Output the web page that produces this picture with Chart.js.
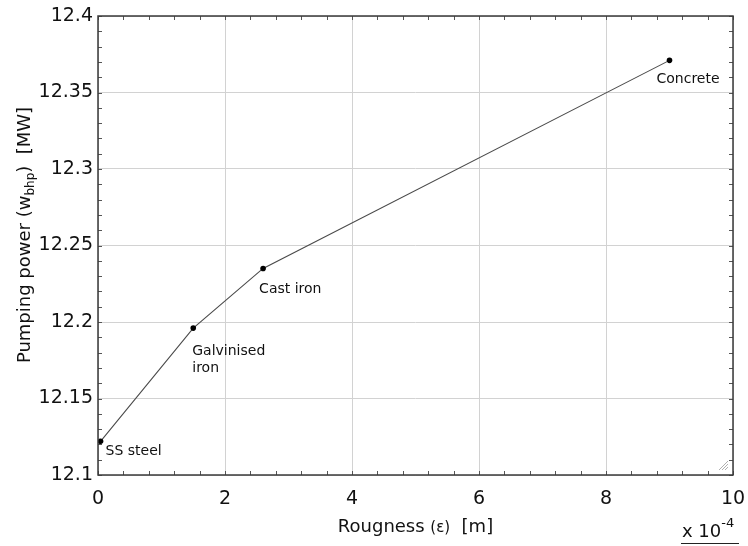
<!DOCTYPE html>
<html>
<head>
<meta charset="utf-8">
<script src="https://cdn.jsdelivr.net/npm/chart.js@4"></script>
<style>
  html, body { margin: 0; padding: 0; background: #fff; }
  #wrap { width: 748px; height: 546px; }
</style>
</head>
<body>
<div id="wrap"><canvas id="powerChart" width="748" height="546"></canvas></div>
<script>
// pipe materials and their wall roughness (x 10^-4 m) vs pumping power (MW)
const materials = [['SS steel'], ['Galvinised', 'iron'], ['Cast iron'], ['Concrete']];
const roughness = [0.04, 1.5, 2.6, 9.0];
const pumpPower = [12.122, 12.196, 12.235, 12.371];

const xMin = 0, xMax = 10, xStep = 2, xMinor = 0.4;
const yMin = 12.1, yMax = 12.4, yStep = 0.05, yMinor = 0.01;

const FONT = '"DejaVu Sans", sans-serif';

// label placement relative to each marker, in pixels
const labelShift = [[5, 10], [-1, 23], [-4, 21], [-13, 19]];

const decorations = {
    id: 'decorations',
    afterDatasetsDraw(chart) {
        const ctx = chart.ctx;
        const a = chart.chartArea;
        const xs = chart.scales.x, ys = chart.scales.y;
        ctx.save();

        // inward tick marks on all four sides
        ctx.strokeStyle = '#555';
        ctx.lineWidth = 1;
        ctx.beginPath();
        for (let v = xMin; v <= xMax + 1e-9; v += xMinor) {
            const px = Math.round(xs.getPixelForValue(v)) + 0.5;
            ctx.moveTo(px, a.bottom); ctx.lineTo(px, a.bottom - 4);
            ctx.moveTo(px, a.top); ctx.lineTo(px, a.top + 4);
        }
        for (let v = yMin; v <= yMax + 1e-9; v += yMinor) {
            const py = Math.round(ys.getPixelForValue(v)) + 0.5;
            ctx.moveTo(a.left, py); ctx.lineTo(a.left + 4, py);
            ctx.moveTo(a.right, py); ctx.lineTo(a.right - 4, py);
        }
        ctx.stroke();

        // plot frame
        ctx.strokeStyle = '#3a3a3a';
        ctx.lineWidth = 1.5;
        ctx.strokeRect(a.left, a.top, a.right - a.left, a.bottom - a.top);

        // resize grip in the corner
        ctx.strokeStyle = '#b0b0b0';
        ctx.lineWidth = 1;
        ctx.beginPath();
        for (let i = 0; i < 4; i++) {
            ctx.moveTo(a.right - 5 - i * 3, a.bottom - 5);
            ctx.lineTo(a.right - 5, a.bottom - 5 - i * 3);
        }
        ctx.stroke();

        // material labels
        ctx.fillStyle = '#111';
        ctx.font = '14px ' + FONT;
        ctx.textBaseline = 'middle';
        ctx.textAlign = 'left';
        materials.forEach((lines, i) => {
            const px = xs.getPixelForValue(roughness[i]) + labelShift[i][0];
            const py = ys.getPixelForValue(pumpPower[i]) + labelShift[i][1];
            lines.forEach((t, k) => ctx.fillText(t, px, py + k * 17));
        });

        // x axis title
        ctx.fillStyle = '#111';
        ctx.textAlign = 'left';
        ctx.textBaseline = 'alphabetic';
        const xt1 = 'Rougness ', xt2 = '(\u03b5)', xt3 = '  [m]';
        ctx.font = '18px ' + FONT;
        const w1 = ctx.measureText(xt1).width, w3 = ctx.measureText(xt3).width;
        ctx.font = '15px ' + FONT;
        const w2 = ctx.measureText(xt2).width;
        let x0 = (a.left + a.right) / 2 - (w1 + w2 + w3) / 2;
        const yb = 532;
        ctx.font = '18px ' + FONT; ctx.fillText(xt1, x0, yb);
        ctx.font = '15px ' + FONT; ctx.fillText(xt2, x0 + w1, yb);
        ctx.font = '18px ' + FONT; ctx.fillText(xt3, x0 + w1 + w2, yb);

        // exponent note under the x axis
        ctx.font = '18px ' + FONT;
        ctx.fillText('x 10', 682, 537);
        const wx = ctx.measureText('x 10').width;
        ctx.font = '13px ' + FONT;
        ctx.fillText('-4', 682 + wx, 527);
        ctx.strokeStyle = '#222';
        ctx.beginPath();
        ctx.moveTo(681, 543.5); ctx.lineTo(739, 543.5);
        ctx.stroke();

        // y axis title, rotated, with subscript
        ctx.translate(30, 235);
        ctx.rotate(-Math.PI / 2);
        const p1 = 'Pumping power (w', p2 = 'bhp', p3 = ')  [MW]';
        ctx.font = '18px ' + FONT;
        const q1 = ctx.measureText(p1).width, q3 = ctx.measureText(p3).width;
        ctx.font = '12px ' + FONT;
        const q2 = ctx.measureText(p2).width;
        const s = -(q1 + q2 + q3) / 2;
        ctx.font = '18px ' + FONT; ctx.fillText(p1, s, 0);
        ctx.font = '12px ' + FONT; ctx.fillText(p2, s + q1, 4);
        ctx.font = '18px ' + FONT; ctx.fillText(p3, s + q1 + q2, 0);

        ctx.restore();
    }
};

new Chart(document.getElementById('powerChart'), {
    type: 'scatter',
    data: {
        datasets: [{
            data: roughness.map((r, i) => ({ x: r, y: pumpPower[i] })),
            showLine: true,
            borderColor: '#4a4a4a',
            borderWidth: 1.1,
            pointRadius: 2.8,
            pointBackgroundColor: '#000',
            pointBorderColor: '#000',
            pointBorderWidth: 0,
            tension: 0
        }]
    },
    options: {
        responsive: false,
        animation: false,
        layout: { padding: { top: 16, right: 15, left: 0, bottom: 0 } },
        plugins: {
            legend: { display: false },
            tooltip: { enabled: false }
        },
        scales: {
            x: {
                type: 'linear',
                min: xMin,
                max: xMax,
                afterFit: s => { s.height = 71; s.paddingLeft = 0; s.paddingRight = 0; },
                ticks: {
                    stepSize: xStep,
                    color: '#111',
                    padding: 13,
                    maxRotation: 0,
                    font: { family: FONT, size: 19 }
                },
                grid: { color: '#d2d2d2', drawTicks: false },
                border: { display: false }
            },
            y: {
                min: yMin,
                max: yMax,
                afterFit: s => { s.width = 98; s.paddingTop = 0; s.paddingBottom = 0; },
                ticks: {
                    stepSize: yStep,
                    color: '#111',
                    padding: 5,
                    font: { family: FONT, size: 19 },
                    callback: v => String(+v.toFixed(2))
                },
                grid: { color: '#d2d2d2', drawTicks: false },
                border: { display: false }
            }
        }
    },
    plugins: [decorations]
});
</script>
</body>
</html>
